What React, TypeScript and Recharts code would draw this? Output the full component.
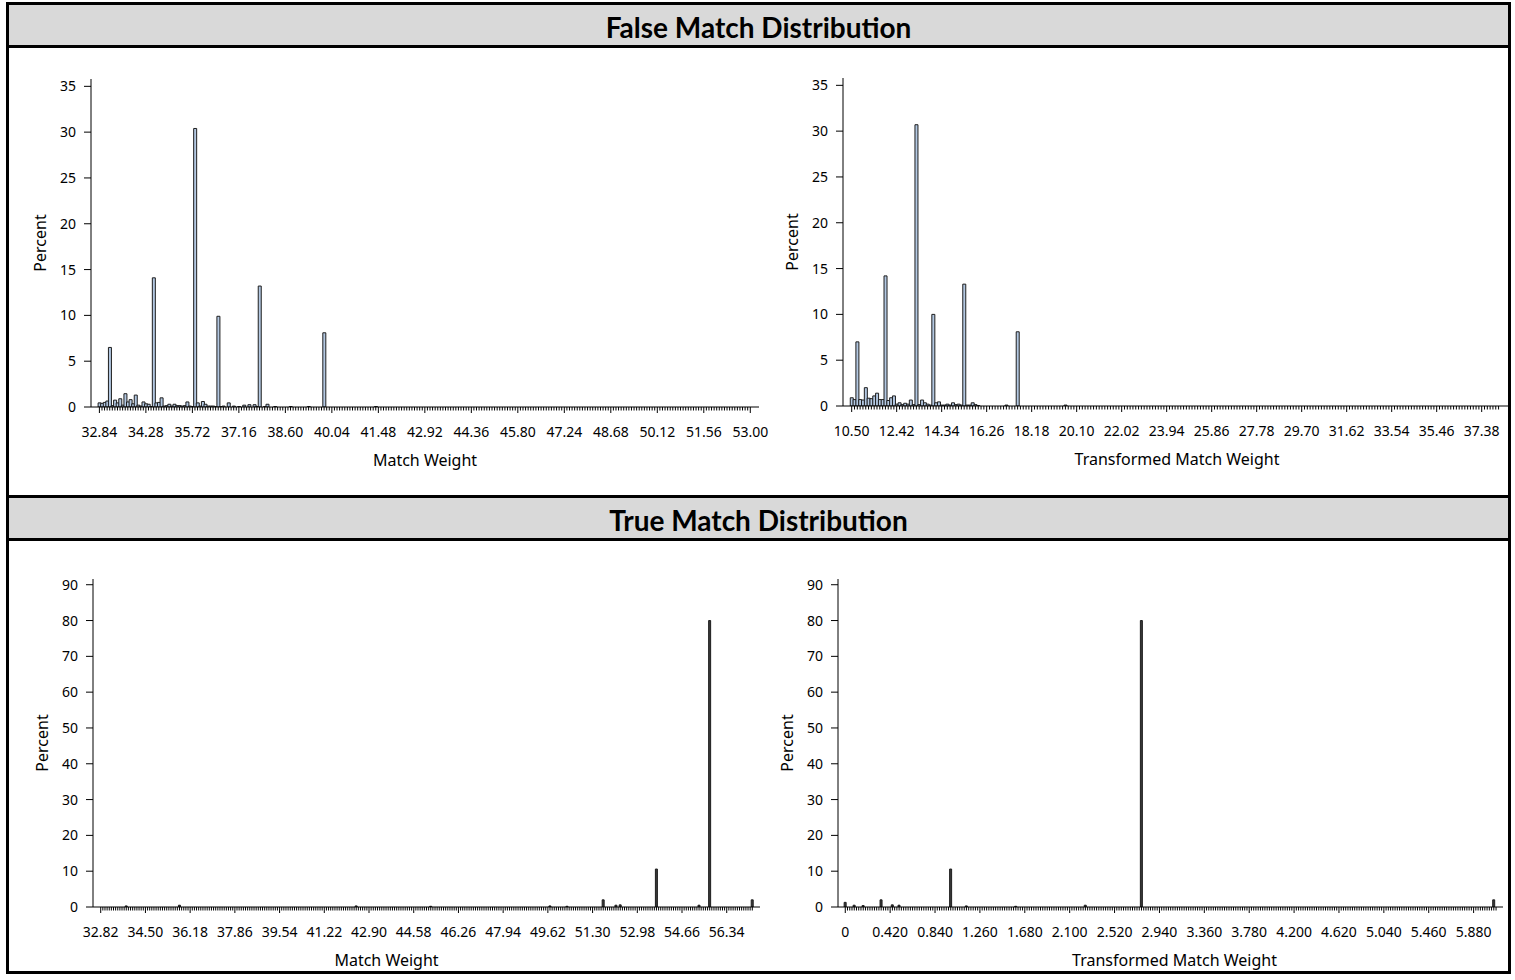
import React from 'react';
import { BarChart, Bar, XAxis, YAxis } from 'recharts';

// ---------------- data ----------------
// False match distribution — Match Weight (bin width 0.08)
const falseMwLabels = ['32.84','34.28','35.72','37.16','38.60','40.04','41.48','42.92','44.36','45.80','47.24','48.68','50.12','51.56','53.00'];
const falseMwBins = [32.84,32.92,33.00,33.08,33.16,33.24,33.32,33.40,33.48,33.56,33.64,33.72,33.80,33.88,33.96,34.04,34.12,34.20,34.28,34.36,34.44,34.52,34.60,34.68,34.76,34.84,34.92,35.00,35.08,35.16,35.24,35.32,35.40,35.48,35.56,35.64,35.72,35.80,35.88,35.96,36.04,36.12,36.20,36.28,36.36,36.44,36.52,36.60,36.68,36.84,37.00,37.16,37.32,37.48,37.64,37.72,37.80,37.96,38.04,38.28,38.76,39.32,39.80,41.40];
const falseMwPct = [0.45,0.4,0.5,0.65,6.5,0.15,0.75,0.45,0.9,0.2,1.45,0.55,0.8,0.35,1.3,0.2,0.1,0.55,0.35,0.3,0.05,14.1,0.45,0.5,1.0,0.1,0.15,0.3,0.1,0.3,0.15,0.15,0.1,0.15,0.55,0.1,0.05,30.4,0.45,0.1,0.6,0.3,0.1,0.1,0.1,0.05,9.9,0.05,0.1,0.45,0.1,0.05,0.2,0.25,0.25,0.05,13.2,0.05,0.3,0.05,0.05,0.05,8.1,0.05];

// False match distribution — Transformed Match Weight (bin width 0.12)
const falseTmwLabels = ['10.50','12.42','14.34','16.26','18.18','20.10','22.02','23.94','25.86','27.78','29.70','31.62','33.54','35.46','37.38'];
const falseTmwBins = [10.50,10.62,10.74,10.86,10.98,11.10,11.22,11.34,11.46,11.58,11.70,11.82,11.94,12.06,12.18,12.30,12.42,12.54,12.66,12.78,12.90,13.02,13.14,13.26,13.38,13.50,13.62,13.74,13.86,13.98,14.10,14.22,14.34,14.46,14.58,14.70,14.82,14.94,15.06,15.18,15.30,15.42,15.54,15.66,15.78,15.90,17.10,17.58,19.62];
const falseTmwPct = [0.9,0.7,7.0,0.7,0.65,2.0,0.85,0.8,1.1,1.4,0.7,0.7,14.2,0.6,0.9,1.1,0.2,0.35,0.15,0.3,0.2,0.65,0.15,30.7,0.15,0.65,0.35,0.2,0.1,10.0,0.35,0.45,0.1,0.1,0.2,0.1,0.35,0.15,0.2,0.1,13.3,0.1,0.1,0.35,0.15,0.05,0.1,8.1,0.1];

// True match distribution — Match Weight (bin width 0.08)
const trueMwLabels = ['32.82','34.50','36.18','37.86','39.54','41.22','42.90','44.58','46.26','47.94','49.62','51.30','52.98','54.66','56.34'];
const trueMwBins = [33.78,35.78,42.42,45.22,49.70,50.34,51.70,52.18,52.34,53.70,55.30,55.70,57.30];
const trueMwPct = [0.3,0.5,0.3,0.2,0.3,0.2,2.0,0.5,0.6,10.6,0.5,80.0,2.0];

// True match distribution — Transformed Match Weight (bin width 0.021)
const trueTmwLabels = ['0','0.420','0.840','1.260','1.680','2.100','2.520','2.940','3.360','3.780','4.200','4.620','5.040','5.460','5.880'];
const trueTmwBins = [0,0.084,0.168,0.336,0.441,0.504,0.987,1.134,1.596,2.247,2.772,6.069];
const trueTmwPct = [1.3,0.5,0.4,2.0,0.6,0.5,10.6,0.3,0.2,0.5,80.0,2.0];

const falseYTicks = [0, 5, 10, 15, 20, 25, 30, 35];
const trueYTicks = [0, 10, 20, 30, 40, 50, 60, 70, 80, 90];

// ---------------- helpers ----------------
const FONT = '"Noto Sans", "Open Sans", "DejaVu Sans", sans-serif';
const TITLE_FONT = 'Lato, "Noto Sans", sans-serif';
const key = (v: number) => v.toFixed(3);

function binGrid(start: number, step: number, count: number): number[] {
  return Array.from({ length: count }, (_, i) => Number((start + i * step).toFixed(3)));
}

function buildRows(grid: number[], bins: number[], pct: number[]) {
  const m = new Map<string, number>();
  bins.forEach((b, i) => m.set(key(b), pct[i]));
  return grid.map((x) => ({ x, pct: m.get(key(x)) ?? 0 }));
}

function makeTick(labels: string[]) {
  const lm = new Map<string, string>();
  labels.forEach((l) => lm.set(key(Number(l)), l));
  return (props: any) => {
    const { x, y, payload } = props;
    const lab = lm.get(key(Number(payload.value)));
    return (
      <g>
        <line x1={x} x2={x} y1={y} y2={y + (lab ? 6 : 3.5)} stroke="#000" strokeWidth={1} />
        {lab ? (
          <text x={x} y={y + 24} textAnchor="middle" dominantBaseline="central" fill="#000" fontSize={14} fontFamily={FONT}>
            {lab}
          </text>
        ) : null}
      </g>
    );
  };
}

const XTitle = (props: any) => {
  const vb = props.viewBox || {};
  const cx = vb.x + vb.width / 2 + (props.dx || 0);
  const cy = vb.y + 53;
  return (
    <text x={cx} y={cy} textAnchor="middle" dominantBaseline="central" fill="#000" fontSize={16} fontFamily={FONT}>
      {props.text}
    </text>
  );
};

const YTitle = (props: any) => {
  const vb = props.viewBox || {};
  const cx = vb.x + 24;
  const cy = vb.y + vb.height / 2;
  return (
    <text x={cx} y={cy} transform={`rotate(-90 ${cx} ${cy})`} textAnchor="middle" dominantBaseline="central" fill="#000" fontSize={16} fontFamily={FONT}>
      Percent
    </text>
  );
};

const AXIS_W = 75;
const TOP_M = 15;
const AXIS_H = 65;
const RIGHT_M = 30;

type PanelProps = {
  plotLeft: number;
  plotTop: number;
  plotW: number;
  plotH: number;
  rows: { x: number; pct: number }[];
  grid: number[];
  xDomain: [number, number];
  xLabels: string[];
  yDomain: [number, number];
  yTicks: number[];
  xTitle: string;
  xTitleDx?: number;
  barFill: string;
};

function Panel(p: PanelProps) {
  const w = AXIS_W + p.plotW + RIGHT_M;
  const h = TOP_M + p.plotH + AXIS_H;
  const tick = makeTick(p.xLabels);
  return (
    <div style={{ position: 'absolute', left: p.plotLeft - AXIS_W, top: p.plotTop - TOP_M }}>
      <BarChart
        width={w}
        height={h}
        data={p.rows}
        margin={{ top: TOP_M, right: RIGHT_M, left: 0, bottom: 0 }}
        barCategoryGap={0}
        barGap={0}
      >
        <XAxis
          xAxisId="frameTop"
          orientation="top"
          type="number"
          domain={p.xDomain}
          allowDataOverflow
          height={0}
          tick={false}
          tickLine={false}
          axisLine={{ stroke: '#7f7f7f', strokeWidth: 1 }}
        />
        <YAxis
          yAxisId="frameRight"
          orientation="right"
          type="number"
          domain={p.yDomain}
          allowDataOverflow
          width={0}
          tick={false}
          tickLine={false}
          axisLine={{ stroke: '#7f7f7f', strokeWidth: 1 }}
        />
        <XAxis
          dataKey="x"
          type="number"
          domain={p.xDomain}
          allowDataOverflow
          ticks={p.grid}
          interval={0}
          height={AXIS_H}
          tickSize={0}
          tickMargin={0}
          tickLine={false}
          tick={tick}
          axisLine={{ stroke: '#000', strokeWidth: 1 }}
          label={<XTitle text={p.xTitle} dx={p.xTitleDx || 0} />}
        />
        <YAxis
          type="number"
          domain={p.yDomain}
          allowDataOverflow
          ticks={p.yTicks}
          interval={0}
          width={AXIS_W}
          tickSize={7}
          tickMargin={8}
          tickLine={{ stroke: '#000' }}
          axisLine={{ stroke: '#000', strokeWidth: 1 }}
          tick={{ fill: '#000', fontSize: 14, fontFamily: FONT }}
          label={<YTitle />}
        />
        <Bar dataKey="pct" fill={p.barFill} stroke="#1e1e1e" strokeWidth={1} isAnimationActive={false} />
      </BarChart>
    </div>
  );
}

const Header = ({ top, text }: { top: number; text: string }) => (
  <div
    style={{
      position: 'absolute',
      left: 9,
      top,
      width: 1499,
      height: 46,
      boxSizing: 'border-box',
      background: '#d9d9d9',
      borderTop: '3px solid #000',
      borderBottom: '3px solid #000',
      display: 'flex',
      alignItems: 'center',
      justifyContent: 'center',
      paddingTop: 3,
      fontFamily: TITLE_FONT,
      fontWeight: 700,
      fontSize: 28,
      color: '#000',
      zIndex: 2,
    }}
  >
    {text}
  </div>
);

export default function App() {
  const gFM = binGrid(32.84, 0.08, 253);
  const gFT = binGrid(10.5, 0.12, 231);
  const gTM = binGrid(32.82, 0.08, 307);
  const gTT = binGrid(0, 0.021, 291);
  return (
    <div style={{ position: 'absolute', left: 0, top: 0, width: 1515, height: 980, overflow: 'hidden', background: '#fff' }}>
      <Panel plotLeft={91} plotTop={79} plotW={668} plotH={328} grid={gFM} rows={buildRows(gFM, falseMwBins, falseMwPct)}
        xDomain={[32.58, 53.27]} xLabels={falseMwLabels} yDomain={[0, 35.8]} yTicks={falseYTicks} xTitle="Match Weight" barFill="#b3c8e2" />
      <Panel plotLeft={843} plotTop={78} plotW={668} plotH={328} grid={gFT} rows={buildRows(gFT, falseTmwBins, falseTmwPct)}
        xDomain={[10.13, 38.63]} xLabels={falseTmwLabels} yDomain={[0, 35.8]} yTicks={falseYTicks} xTitle="Transformed Match Weight" barFill="#b3c8e2" />
      <Panel plotLeft={93} plotTop={579} plotW={667} plotH={328} grid={gTM} rows={buildRows(gTM, trueMwBins, trueMwPct)}
        xDomain={[32.53, 57.59]} xLabels={trueMwLabels} yDomain={[0, 91.6]} yTicks={trueYTicks} xTitle="Match Weight" xTitleDx={-40} barFill="#3a3a3a" />
      <Panel plotLeft={838} plotTop={579} plotW={665} plotH={328} grid={gTT} rows={buildRows(gTT, trueTmwBins, trueTmwPct)}
        xDomain={[-0.068, 6.155]} xLabels={trueTmwLabels} yDomain={[0, 91.6]} yTicks={trueYTicks} xTitle="Transformed Match Weight" xTitleDx={4} barFill="#3a3a3a" />

      <Header top={2} text="False Match Distribution" />
      <Header top={495} text="True Match Distribution" />
      <div style={{ position: 'absolute', left: 6, top: 2, width: 1505, height: 972, boxSizing: 'border-box', border: '3px solid #000', zIndex: 3, pointerEvents: 'none' }} />
    </div>
  );
}
